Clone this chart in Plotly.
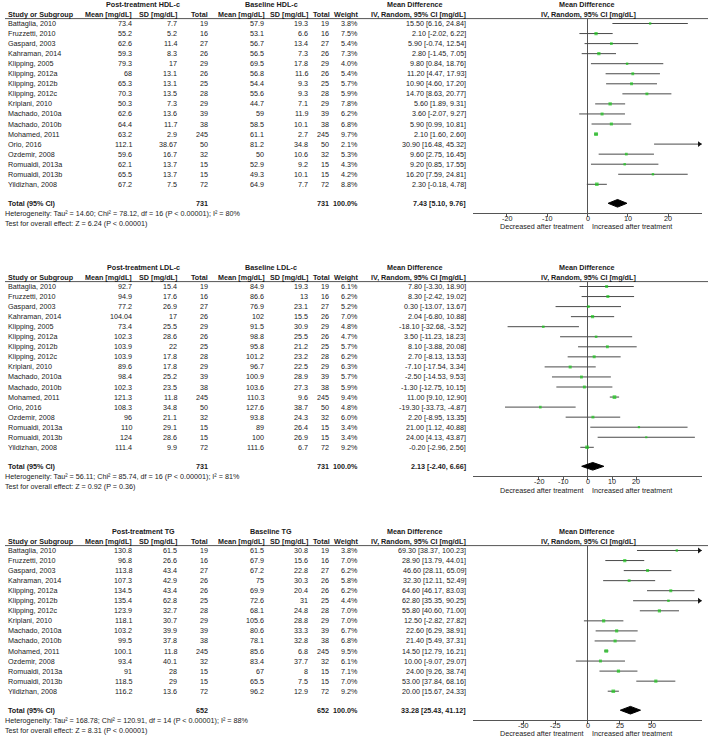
import math
import plotly.graph_objects as go

W, H = 708, 740
FONT = "Liberation Sans, Arial, sans-serif"
TXT = "#1a1a1a"
LINE = "#4a4a4a"
GREEN = "#19c819"

# ------------------------------------------------------------------ data
hdl_studies = ["Battaglia, 2010", "Fruzzetti, 2010", "Gaspard, 2003", "Kahraman, 2014", "Klipping, 2005",
               "Klipping, 2012a", "Klipping, 2012b", "Klipping, 2012c", "Kriplani, 2010", "Machado, 2010a",
               "Machado, 2010b", "Mohamed, 2011", "Orio, 2016", "Ozdemir, 2008", "Romualdi, 2013a",
               "Romualdi, 2013b", "Yildizhan, 2008"]
hdl_post_mean = [73.4, 55.2, 62.6, 59.3, 79.3, 68, 65.3, 70.3, 50.3, 62.6, 64.4, 63.2, 112.1, 59.6, 62.1, 65.5, 67.2]
hdl_post_sd = [7.7, 5.2, 11.4, 8.3, 17, 13.1, 13.1, 13.5, 7.3, 13.6, 11.7, 2.9, 38.67, 16.7, 13.7, 13.7, 7.5]
hdl_n = [19, 16, 27, 26, 29, 26, 25, 28, 29, 39, 38, 245, 50, 32, 15, 15, 72]
hdl_base_mean = [57.9, 53.1, 56.7, 56.5, 69.5, 56.8, 54.4, 55.6, 44.7, 59, 58.5, 61.1, 81.2, 50, 52.9, 49.3, 64.9]
hdl_base_sd = [19.3, 6.6, 13.4, 7.3, 17.8, 11.6, 9.3, 9.3, 7.1, 11.9, 10.1, 2.7, 34.8, 10.6, 9.2, 10.1, 7.7]
hdl_weight = [3.8, 7.5, 5.4, 7.3, 4.0, 5.4, 5.7, 5.9, 7.8, 6.2, 6.8, 9.7, 2.1, 5.3, 4.3, 4.2, 8.8]
hdl_md = [15.50, 2.10, 5.90, 2.80, 9.80, 11.20, 10.90, 14.70, 5.60, 3.60, 5.90, 2.10, 30.90, 9.60, 9.20, 16.20, 2.30]
hdl_lo = [6.16, -2.02, -0.74, -1.45, 0.84, 4.47, 4.60, 8.63, 1.89, -2.07, 0.99, 1.60, 16.48, 2.75, 0.85, 7.59, -0.18]
hdl_hi = [24.84, 6.22, 12.54, 7.05, 18.76, 17.93, 17.20, 20.77, 9.31, 9.27, 10.81, 2.60, 45.32, 16.45, 17.55, 24.81, 4.78]
hdl_total = [731, 731]
hdl_pooled = [7.43, 5.10, 9.76]
hdl_het = "Heterogeneity: Tau² = 14.60; Chi² = 78.12, df = 16 (P < 0.00001); I² = 80%"
hdl_test = "Test for overall effect: Z = 6.24 (P < 0.00001)"
hdl_ticks = [-20, -10, 0, 10, 20]

ldl_studies = hdl_studies
ldl_post_mean = [92.7, 94.9, 77.2, 104.04, 73.4, 102.3, 103.9, 103.9, 89.6, 98.4, 102.3, 121.3, 108.3, 96, 110, 124, 111.4]
ldl_post_sd = [15.4, 17.6, 26.9, 17, 25.5, 28.6, 22, 17.8, 17.8, 25.2, 23.5, 11.8, 34.8, 21.1, 29.1, 28.6, 9.9]
ldl_n = hdl_n
ldl_base_mean = [84.9, 86.6, 76.9, 102, 91.5, 98.8, 95.8, 101.2, 96.7, 100.9, 103.6, 110.3, 127.6, 93.8, 89, 100, 111.6]
ldl_base_sd = [19.3, 13, 23.1, 15.5, 30.9, 25.5, 21.2, 23.2, 22.5, 28.9, 27.3, 9.6, 38.7, 24.3, 26.4, 26.9, 6.7]
ldl_weight = [6.1, 6.2, 5.2, 7.0, 4.8, 4.7, 5.7, 6.2, 6.3, 5.7, 5.9, 9.4, 4.8, 6.0, 3.4, 3.4, 9.2]
ldl_md = [7.80, 8.30, 0.30, 2.04, -18.10, 3.50, 8.10, 2.70, -7.10, -2.50, -1.30, 11.00, -19.30, 2.20, 21.00, 24.00, -0.20]
ldl_lo = [-3.30, -2.42, -13.07, -6.80, -32.68, -11.23, -3.88, -8.13, -17.54, -14.53, -12.75, 9.10, -33.73, -8.95, 1.12, 4.13, -2.96]
ldl_hi = [18.90, 19.02, 13.67, 10.88, -3.52, 18.23, 20.08, 13.53, 3.34, 9.53, 10.15, 12.90, -4.87, 13.35, 40.88, 43.87, 2.56]
ldl_total = [731, 731]
ldl_pooled = [2.13, -2.40, 6.66]
ldl_het = "Heterogeneity: Tau² = 56.11; Chi² = 85.74, df = 16 (P < 0.00001); I² = 81%"
ldl_test = "Test for overall effect: Z = 0.92 (P = 0.36)"
ldl_ticks = [-20, -10, 0, 10, 20]

tg_studies = ["Battaglia, 2010", "Fruzzetti, 2010", "Gaspard, 2003", "Kahraman, 2014", "Klipping, 2012a",
              "Klipping, 2012b", "Klipping, 2012c", "Kriplani, 2010", "Machado, 2010a", "Machado, 2010b",
              "Mohamed, 2011", "Ozdemir, 2008", "Romualdi, 2013a", "Romualdi, 2013b", "Yildizhan, 2008"]
tg_post_mean = [130.8, 96.8, 113.8, 107.3, 134.5, 135.4, 123.9, 118.1, 103.2, 99.5, 100.1, 93.4, 91, 118.5, 116.2]
tg_post_sd = [61.5, 26.6, 43.4, 42.9, 43.4, 62.8, 32.7, 30.7, 39.9, 37.8, 11.8, 40.1, 28, 29, 13.6]
tg_n = [19, 16, 27, 26, 26, 25, 28, 29, 39, 38, 245, 32, 15, 15, 72]
tg_base_mean = [61.5, 67.9, 67.2, 75, 69.9, 72.6, 68.1, 105.6, 80.6, 78.1, 85.6, 83.4, 67, 65.5, 96.2]
tg_base_sd = [30.8, 15.6, 22.8, 30.3, 20.4, 31, 24.8, 28.8, 33.3, 32.8, 6.8, 37.7, 8, 7.5, 12.9]
tg_weight = [3.8, 7.0, 6.2, 5.8, 6.2, 4.4, 7.0, 7.0, 6.7, 6.8, 9.5, 6.1, 7.1, 7.0, 9.2]
tg_md = [69.30, 28.90, 46.60, 32.30, 64.60, 62.80, 55.80, 12.50, 22.60, 21.40, 14.50, 10.00, 24.00, 53.00, 20.00]
tg_lo = [38.37, 13.79, 28.11, 12.11, 46.17, 35.35, 40.60, -2.82, 6.29, 5.49, 12.79, -9.07, 9.26, 37.84, 15.67]
tg_hi = [100.23, 44.01, 65.09, 52.49, 83.03, 90.25, 71.00, 27.82, 38.91, 37.31, 16.21, 29.07, 38.74, 68.16, 24.33]
tg_total = [652, 652]
tg_pooled = [33.28, 25.43, 41.12]
tg_het = "Heterogeneity: Tau² = 168.78; Chi² = 120.91, df = 14 (P < 0.00001); I² = 88%"
tg_test = "Test for overall effect: Z = 8.31 (P < 0.00001)"
tg_ticks = [-50, -25, 0, 25, 50]

panels = [
    dict(label="HDL-c", studies=hdl_studies, pm=hdl_post_mean, psd=hdl_post_sd, n=hdl_n, bm=hdl_base_mean,
         bsd=hdl_base_sd, w=hdl_weight, md=hdl_md, lo=hdl_lo, hi=hdl_hi, tot=hdl_total, pooled=hdl_pooled,
         het=hdl_het, test=hdl_test, ticks=hdl_ticks, xmax=28.3),
    dict(label="LDL-c", studies=ldl_studies, pm=ldl_post_mean, psd=ldl_post_sd, n=ldl_n, bm=ldl_base_mean,
         bsd=ldl_base_sd, w=ldl_weight, md=ldl_md, lo=ldl_lo, hi=ldl_hi, tot=ldl_total, pooled=ldl_pooled,
         het=ldl_het, test=ldl_test, ticks=ldl_ticks, xmax=46.7),
    dict(label="TG", studies=tg_studies, pm=tg_post_mean, psd=tg_post_sd, n=tg_n, bm=tg_base_mean,
         bsd=tg_base_sd, w=tg_weight, md=tg_md, lo=tg_lo, hi=tg_hi, tot=tg_total, pooled=tg_pooled,
         het=tg_het, test=tg_test, ticks=tg_ticks, xmax=88.7),
]

# ------------------------------------------------------------------ layout geometry (pixels)
OFFS = [0, 263, 527]
HDR1, HDR2, SEP, ROW0, SP = 4.3, 14.3, 18.6, 23.5, 10.05
TOTAL_GAP, AXIS_GAP = 19.0, 10.0
PLOT_L, PLOT_R = 473.3, 701.8

FS = 7.2

fig = go.Figure()
annotations = []
shapes = []


def fmt(v):
    return f"{v:g}"


def py(px):
    return 1 - px / H


def add_text(xpx, ypx, text, anchor="right", bold=False, size=FS, xref="paper"):
    if bold:
        text = f"<b>{text}</b>"
    annotations.append(dict(x=xpx / W if xref == "paper" else xpx, xref=xref, y=py(ypx), yref="paper",
                            text=text, showarrow=False, xanchor=anchor, yanchor="middle", borderpad=0,
                            font=dict(family=FONT, size=size, color=TXT)))


layout_axes = {}
for k, p in enumerate(panels):
    suf = "" if k == 0 else str(k + 1)
    xa, ya = "x" + suf, "y" + suf
    off = OFFS[k]
    n = len(p["studies"])
    row0 = off + ROW0
    row_px = [row0 + i * SP for i in range(n)]
    total_px = row0 + (n - 1) * SP + TOTAL_GAP
    axis_px = total_px + AXIS_GAP
    sep_px = off + SEP
    to_row = lambda px: (px - row0) / SP
    total_row = to_row(total_px)
    xmax = p["xmax"]
    ppu = (PLOT_R - PLOT_L) / (2 * xmax)

    # CI lines
    xs, ys = [], []
    for i in range(n):
        xs += [p["lo"][i], p["hi"][i], None]
        ys += [i, i, None]
    fig.add_trace(go.Scatter(x=xs, y=ys, mode="lines", line=dict(color=LINE, width=1),
                             xaxis=xa, yaxis=ya, hoverinfo="skip", showlegend=False))
    # arrows where CI exceeds the scale
    ax_x = [xmax - 2.5 / ppu for i in range(n) if p["hi"][i] > xmax]
    ax_y = [i for i in range(n) if p["hi"][i] > xmax]
    if ax_x:
        fig.add_trace(go.Scatter(x=ax_x, y=ax_y, mode="markers", cliponaxis=False,
                                 marker=dict(symbol="triangle-right", size=5, color="#111111", line=dict(width=0)),
                                 xaxis=xa, yaxis=ya, hoverinfo="skip", showlegend=False))
    # squares
    fig.add_trace(go.Scatter(x=p["md"], y=list(range(n)), mode="markers",
                             marker=dict(symbol="square", size=[math.sqrt(w) * 1.2 for w in p["w"]],
                                         color=GREEN, line=dict(width=0)),
                             xaxis=xa, yaxis=ya, hoverinfo="skip", showlegend=False))
    # diamond
    est, plo, phi = p["pooled"]
    dh = 0.38
    fig.add_trace(go.Scatter(x=[plo, est, phi, est, plo], y=[total_row, total_row - dh, total_row,
                                                             total_row + dh, total_row],
                             mode="lines", fill="toself", fillcolor="#000000", line=dict(color="#000000", width=1),
                             xaxis=xa, yaxis=ya, hoverinfo="skip", showlegend=False))

    layout_axes["xaxis" + suf] = dict(domain=[PLOT_L / W, PLOT_R / W], range=[-xmax, xmax], anchor=ya,
                                      showline=True, linecolor="#555555", linewidth=1, ticks="outside",
                                      ticklen=3, tickcolor="#555555", tickwidth=1, tickvals=p["ticks"],
                                      showticklabels=False, showgrid=False,
                                      zeroline=True, zerolinecolor="#555555", zerolinewidth=1, fixedrange=True)
    layout_axes["yaxis" + suf] = dict(domain=[py(axis_px), py(sep_px)],
                                      range=[to_row(axis_px), to_row(sep_px)], visible=False, fixedrange=True)

    # tick labels placed on the axis scale
    for t in p["ticks"]:
        add_text(t, axis_px + 5.6, str(t), "center", xref=xa)

    # header
    h1, h2 = off + HDR1, off + HDR2
    add_text(143, h1, f"Post-treatment {p['label']}", "center", True)
    add_text(271, h1, f"Baseline {p['label']}", "center", True)
    add_text(415, h1, "Mean Difference", "center", True)
    add_text(587, h1, "Mean Difference", "center", True)
    add_text(7, h2, "Study or Subgroup", "left", True)
    add_text(133, h2, "Mean [mg/dL]", "right", True)
    add_text(178, h2, "SD [mg/dL]", "right", True)
    add_text(209, h2, "Total", "right", True)
    add_text(265.5, h2, "Mean [mg/dL]", "right", True)
    add_text(309, h2, "SD [mg/dL]", "right", True)
    add_text(330.5, h2, "Total", "right", True)
    add_text(359, h2, "Weight", "right", True)
    add_text(466.5, h2, "IV, Random, 95% CI [mg/dL]", "right", True)
    add_text(588, h2, "IV, Random, 95% CI [mg/dL]", "center", True)
    shapes.append(dict(type="line", xref="paper", yref="paper", x0=5 / W, x1=1, y0=py(sep_px),
                       y1=py(sep_px), line=dict(color="#555555", width=1)))

    # rows
    for i in range(n):
        y = row_px[i]
        add_text(7, y, p["studies"][i], "left")
        add_text(132.7, y, fmt(p["pm"][i]))
        add_text(177.7, y, fmt(p["psd"][i]))
        add_text(208.5, y, str(p["n"][i]))
        add_text(265, y, fmt(p["bm"][i]))
        add_text(308.5, y, fmt(p["bsd"][i]))
        add_text(330, y, str(p["n"][i]))
        add_text(358.5, y, f"{p['w'][i]:.1f}%")
        add_text(466.5, y, f"{p['md'][i]:.2f} [{p['lo'][i]:.2f}, {p['hi'][i]:.2f}]")

    # total
    add_text(7, total_px, "Total (95% CI)", "left", True)
    add_text(208.5, total_px, str(p["tot"][0]), "right", True)
    add_text(330, total_px, str(p["tot"][1]), "right", True)
    add_text(358.5, total_px, "100.0%", "right", True)
    add_text(466.5, total_px, f"{est:.2f} [{plo:.2f}, {phi:.2f}]", "right", True)
    add_text(3.5, total_px + 10.5, p["het"], "left")
    add_text(3.5, total_px + 20.5, p["test"], "left")

    # direction labels
    for txt, anc, sh in [("Decreased after treatment", "right", -3), ("Increased after treatment", "left", 3)]:
        annotations.append(dict(x=0, xref=xa, y=py(axis_px + 13.7), yref="paper", text=txt, showarrow=False,
                                xanchor=anc, yanchor="middle", xshift=sh, borderpad=0,
                                font=dict(family=FONT, size=FS, color=TXT)))

fig.update_layout(width=W, height=H, margin=dict(l=0, r=0, t=0, b=0), paper_bgcolor="white",
                  plot_bgcolor="rgba(0,0,0,0)", showlegend=False, annotations=annotations, shapes=shapes,
                  font=dict(family=FONT, size=FS, color=TXT), **layout_axes)

fig.write_html("out.html", config={"displayModeBar": False, "staticPlot": True},
               post_script="document.body.style.margin='0';")
